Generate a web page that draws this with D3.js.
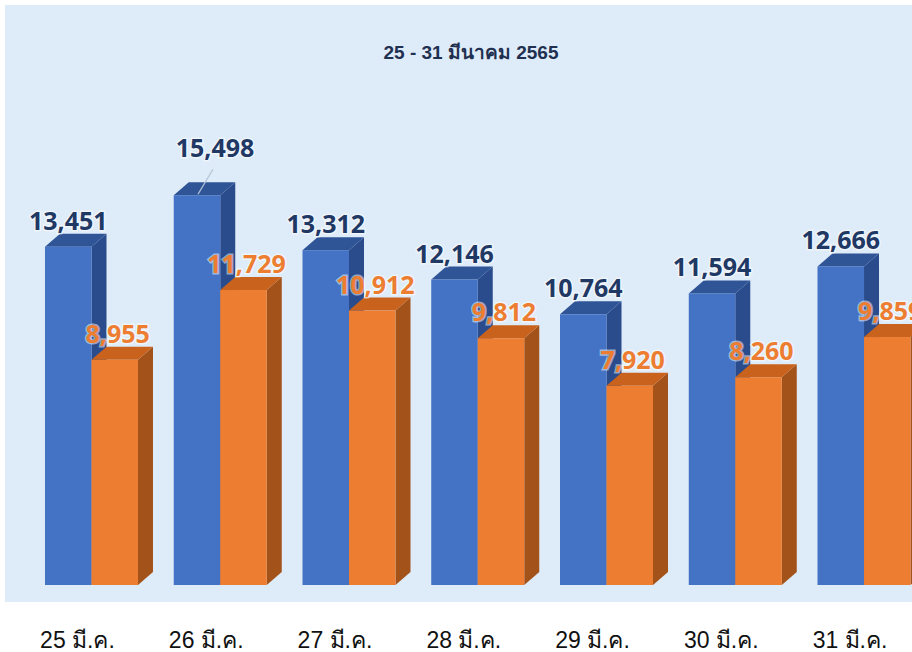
<!DOCTYPE html>
<html><head><meta charset="utf-8">
<script src="https://cdn.jsdelivr.net/npm/d3@7"></script>
<style>
html,body{margin:0;padding:0;background:#fff;}
svg{display:block;}
</style></head>
<body>
<svg id="chart" width="912" height="652"></svg>
<script>
const title = "25 - 31 มีนาคม 2565";
const categories = ["25 มี.ค.", "26 มี.ค.", "27 มี.ค.", "28 มี.ค.", "29 มี.ค.", "30 มี.ค.", "31 มี.ค."];
const seriesBlue = [13451, 15498, 13312, 12146, 10764, 11594, 12666];
const seriesOrange = [8955, 11729, 10912, 9812, 7920, 8260, 9859];
const seriesNames = ["blue", "orange"];

const W = 912, H = 652;
const svg = d3.select("#chart");
const DX = 15, DY = -13;

// panel
svg.append("rect").attr("x", 5).attr("y", 5).attr("width", W - 5).attr("height", 597)
  .attr("fill", "#deebf8");

const x0 = d3.scaleBand().domain(categories).range([27.1, 928.4])
  .paddingInner(0.2777).paddingOuter(0.1389);
const x1 = d3.scaleBand().domain(seriesNames).range([0, x0.bandwidth()]);
const y = d3.scaleLinear().domain([0, 16000]).range([585, 585 - 16000 * 0.02515]);

const colors = {
  blue: {front: "#4472c4", top: "#2f5597", side: "#2b4c8c", label: "#1f3864"},
  orange: {front: "#ed7d31", top: "#c8621c", side: "#a3521a", label: "#ed7d31"}
};

const data = categories.map((c, i) => ({cat: c, blue: seriesBlue[i], orange: seriesOrange[i]}));

function drawBar(g, s, v, cat) {
  const xl = x0(cat) + x1(s), xr = xl + x1.bandwidth();
  const yt = y(v), yb = y(0);
  const col = colors[s];
  g.append("path").attr("d", `M${xr},${yt} L${xr + DX},${yt + DY} L${xr + DX},${yb + DY} L${xr},${yb} Z`)
    .attr("fill", col.side);
  g.append("path").attr("d", `M${xl},${yt} L${xl + DX},${yt + DY} L${xr + DX},${yt + DY} L${xr},${yt} Z`)
    .attr("fill", col.top);
  g.append("rect").attr("x", xl).attr("y", yt).attr("width", xr - xl).attr("height", yb - yt)
    .attr("fill", col.front);
}

const bars = svg.append("g");
data.forEach(d => {
  seriesNames.forEach(s => drawBar(bars, s, d[s], d.cat));
});

// value labels
const labels = svg.append("g")
  .attr("font-family", "'Open Sans', 'Noto Sans', sans-serif")
  .attr("font-weight", 700).attr("font-size", 25).attr("text-anchor", "middle");
const fmt = d3.format(",");
data.forEach((d, i) => {
  seriesNames.forEach(s => {
    let cx = x0(d.cat) + x1(s) + x1.bandwidth() / 2 + (s === "orange" ? 3 : 0);
    let by = y(d[s]) - 17;
    if (s === "blue" && i === 1) {
      labels.append("line")
        .attr("x1", cx + 16).attr("y1", by - 9)
        .attr("x2", cx + 1).attr("y2", by + 16)
        .attr("stroke", "#b4c4d8").attr("stroke-width", 1.3);
      cx += 18; by -= 21;
    }
    labels.append("text").attr("x", cx).attr("y", by)
      .attr("fill", colors[s].label)
      .attr("stroke", "rgba(255,255,255,0.5)").attr("stroke-width", 3)
      .attr("paint-order", "stroke")
      .text(fmt(d[s]));
  });
});

// title
svg.append("text").attr("x", 471).attr("y", 59).attr("text-anchor", "middle")
  .attr("font-family", "'Liberation Sans', 'Noto Sans', sans-serif")
  .attr("font-weight", 700).attr("font-size", 19).attr("fill", "#1f3050")
  .text(title);

// category axis labels
const xAxis = d3.axisBottom(x0).tickSize(0).tickPadding(0).tickFormat(d => d);
const ax = svg.append("g").attr("transform", "translate(-14, 632)").call(xAxis);
ax.select(".domain").remove();
ax.selectAll("text")
  .attr("font-family", "'Liberation Sans', 'Noto Sans', sans-serif")
  .attr("font-size", 23).attr("fill", "#111").attr("dy", "0.71em");
</script>
</body></html>
